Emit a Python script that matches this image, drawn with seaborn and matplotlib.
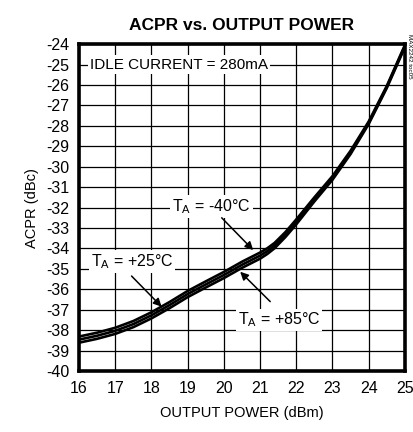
import matplotlib
matplotlib.use("Agg")
import matplotlib.pyplot as plt
import seaborn as sns
import pandas as pd

# output power (dBm)
power = [16, 16.5, 17, 17.5, 18, 18.5, 19, 19.5, 20, 20.5, 21, 21.2, 21.4, 21.7, 22, 22.5, 23, 23.5, 24, 24.5, 25]
# ACPR (dBc) per ambient temperature
acpr_m40 = [-38.31, -38.12, -37.88, -37.55, -37.12, -36.62, -36.08, -35.61, -35.15, -34.65, -34.2, -33.99, -33.73, -33.2, -32.58, -31.5, -30.46, -29.22, -27.79, -26.05, -24.05]
acpr_p25 = [-38.46, -38.27, -38.03, -37.7, -37.27, -36.77, -36.23, -35.76, -35.3, -34.8, -34.35, -34.13, -33.86, -33.32, -32.7, -31.6, -30.55, -29.3, -27.85, -26.1, -24.1]
acpr_p85 = [-38.61, -38.42, -38.18, -37.85, -37.42, -36.92, -36.38, -35.91, -35.45, -34.95, -34.5, -34.27, -33.99, -33.44, -32.82, -31.7, -30.64, -29.38, -27.91, -26.15, -24.15]

df = pd.concat([
    pd.DataFrame({"power": power, "acpr": acpr_m40, "temp": "-40"}),
    pd.DataFrame({"power": power, "acpr": acpr_p25, "temp": "+25"}),
    pd.DataFrame({"power": power, "acpr": acpr_p85, "temp": "+85"}),
])

sns.set_style("white")
plt.rcParams['font.family'] = ['Liberation Sans', 'DejaVu Sans']
plt.rcParams['mathtext.fontset'] = 'custom'
plt.rcParams['mathtext.rm'] = 'Liberation Sans'
plt.rcParams['axes.unicode_minus'] = False
plt.rcParams['text.color'] = 'black'
plt.rcParams['xtick.color'] = 'black'
plt.rcParams['ytick.color'] = 'black'
plt.rcParams['axes.labelcolor'] = 'black'

fig = plt.figure(figsize=(4.14, 4.32), dpi=100)
ax = fig.add_axes([0.191, 0.141, 0.787, 0.757])

sns.lineplot(data=df, x="power", y="acpr", hue="temp", units="temp", estimator=None,
             palette=["black", "black", "black"], linewidth=1.9, legend=False, ax=ax)

ax.set_xlim(16, 25)
ax.set_ylim(-40, -24)
ax.set_xticks(range(16, 26))
ax.set_yticks(range(-40, -23))
ax.grid(True, color="black", linewidth=0.9)
ax.set_axisbelow(True)
for s in ax.spines.values():
    s.set_linewidth(2.6)
    s.set_color("black")
ax.tick_params(axis="both", length=0, labelsize=11.5, pad=7)

ax.set_xlabel("OUTPUT POWER (dBm)", fontsize=10.5, labelpad=7)
ax.set_ylabel("ACPR (dBc)", fontsize=10.5, labelpad=5)
ax.set_title("ACPR vs. OUTPUT POWER", fontsize=12.5, fontweight="bold", pad=10)

box = dict(facecolor="white", edgecolor="none", pad=1.5)
ax.text(16.3, -25, "IDLE CURRENT = 280mA", fontsize=11, va="center", ha="left", bbox=box)

labels = ["T$_{\\mathregular{A}}$ = -40°C", "T$_{\\mathregular{A}}$ = +25°C", "T$_{\\mathregular{A}}$ = +85°C"]
label_pos = [(19.66, -31.96), (17.46, -34.65), (21.52, -37.5)]
arrow_tail = [(19.94, -32.5), (17.45, -35.35), (21.28, -36.6)]
arrow_tip = [(20.81, -34.08), (18.28, -36.85), (20.45, -35.14)]

arrow = dict(arrowstyle="-|>", color="black", lw=1.1, mutation_scale=12, shrinkA=0, shrinkB=0)
for lab, pos, tail, tip in zip(labels, label_pos, arrow_tail, arrow_tip):
    ax.text(pos[0], pos[1], lab, fontsize=11.5, ha="center", va="center", bbox=box)
    ax.annotate("", xy=tip, xytext=tail, arrowprops=arrow)

fig.text(0.99, 0.87, "MAX2242 toc05", rotation=-90, fontsize=4.5, ha="center", va="center")

fig.savefig("out.png", dpi=100)
